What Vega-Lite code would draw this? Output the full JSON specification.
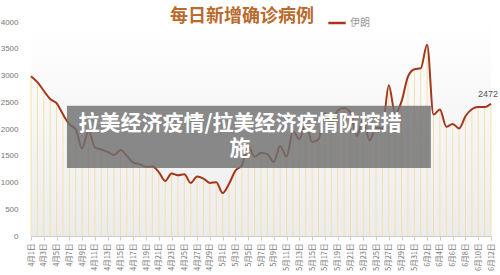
{
  "$schema": "https://vega.github.io/schema/vega-lite/v6.json",
  "width": 460,
  "height": 214,
  "autosize": {"type": "none"},
  "padding": {"left": 31, "top": 22, "right": 9, "bottom": 39},
  "background": "#ffffff",
  "config": {"view": {"stroke": null}},
  "title": {
    "text": "每日新增确诊病例",
    "anchor": "middle",
    "frame": "group",
    "dx": -19,
    "offset": 0,
    "dy": 31,
    "baseline": "bottom",
    "fontSize": 18,
    "font": "Noto Sans CJK SC",
    "fontWeight": "bold",
    "color": "#b96a2c"
  },
  "data": {
    "values": [
      {"date": "2020-04-01", "cases": 2987, "country": "伊朗"},
      {"date": "2020-04-02", "cases": 2875, "country": "伊朗"},
      {"date": "2020-04-03", "cases": 2715, "country": "伊朗"},
      {"date": "2020-04-04", "cases": 2560, "country": "伊朗"},
      {"date": "2020-04-05", "cases": 2483, "country": "伊朗"},
      {"date": "2020-04-06", "cases": 2274, "country": "伊朗"},
      {"date": "2020-04-07", "cases": 2089, "country": "伊朗"},
      {"date": "2020-04-08", "cases": 1997, "country": "伊朗"},
      {"date": "2020-04-09", "cases": 1634, "country": "伊朗"},
      {"date": "2020-04-10", "cases": 1972, "country": "伊朗"},
      {"date": "2020-04-11", "cases": 1657, "country": "伊朗"},
      {"date": "2020-04-12", "cases": 1617, "country": "伊朗"},
      {"date": "2020-04-13", "cases": 1574, "country": "伊朗"},
      {"date": "2020-04-14", "cases": 1512, "country": "伊朗"},
      {"date": "2020-04-15", "cases": 1606, "country": "伊朗"},
      {"date": "2020-04-16", "cases": 1499, "country": "伊朗"},
      {"date": "2020-04-17", "cases": 1374, "country": "伊朗"},
      {"date": "2020-04-18", "cases": 1343, "country": "伊朗"},
      {"date": "2020-04-19", "cases": 1294, "country": "伊朗"},
      {"date": "2020-04-20", "cases": 1297, "country": "伊朗"},
      {"date": "2020-04-21", "cases": 1194, "country": "伊朗"},
      {"date": "2020-04-22", "cases": 1030, "country": "伊朗"},
      {"date": "2020-04-23", "cases": 1168, "country": "伊朗"},
      {"date": "2020-04-24", "cases": 1134, "country": "伊朗"},
      {"date": "2020-04-25", "cases": 1153, "country": "伊朗"},
      {"date": "2020-04-26", "cases": 991, "country": "伊朗"},
      {"date": "2020-04-27", "cases": 1112, "country": "伊朗"},
      {"date": "2020-04-28", "cases": 1073, "country": "伊朗"},
      {"date": "2020-04-29", "cases": 993, "country": "伊朗"},
      {"date": "2020-04-30", "cases": 1006, "country": "伊朗"},
      {"date": "2020-05-01", "cases": 802, "country": "伊朗"},
      {"date": "2020-05-02", "cases": 976, "country": "伊朗"},
      {"date": "2020-05-03", "cases": 1223, "country": "伊朗"},
      {"date": "2020-05-04", "cases": 1323, "country": "伊朗"},
      {"date": "2020-05-05", "cases": 1680, "country": "伊朗"},
      {"date": "2020-05-06", "cases": 1485, "country": "伊朗"},
      {"date": "2020-05-07", "cases": 1556, "country": "伊朗"},
      {"date": "2020-05-08", "cases": 1529, "country": "伊朗"},
      {"date": "2020-05-09", "cases": 1383, "country": "伊朗"},
      {"date": "2020-05-10", "cases": 1683, "country": "伊朗"},
      {"date": "2020-05-11", "cases": 1481, "country": "伊朗"},
      {"date": "2020-05-12", "cases": 1958, "country": "伊朗"},
      {"date": "2020-05-13", "cases": 1808, "country": "伊朗"},
      {"date": "2020-05-14", "cases": 2102, "country": "伊朗"},
      {"date": "2020-05-15", "cases": 1757, "country": "伊朗"},
      {"date": "2020-05-16", "cases": 1806, "country": "伊朗"},
      {"date": "2020-05-17", "cases": 2294, "country": "伊朗"},
      {"date": "2020-05-18", "cases": 2111, "country": "伊朗"},
      {"date": "2020-05-19", "cases": 2346, "country": "伊朗"},
      {"date": "2020-05-20", "cases": 2392, "country": "伊朗"},
      {"date": "2020-05-21", "cases": 2311, "country": "伊朗"},
      {"date": "2020-05-22", "cases": 1869, "country": "伊朗"},
      {"date": "2020-05-23", "cases": 2180, "country": "伊朗"},
      {"date": "2020-05-24", "cases": 1787, "country": "伊朗"},
      {"date": "2020-05-25", "cases": 2023, "country": "伊朗"},
      {"date": "2020-05-26", "cases": 2013, "country": "伊朗"},
      {"date": "2020-05-27", "cases": 2819, "country": "伊朗"},
      {"date": "2020-05-28", "cases": 2282, "country": "伊朗"},
      {"date": "2020-05-29", "cases": 2516, "country": "伊朗"},
      {"date": "2020-05-30", "cases": 2979, "country": "伊朗"},
      {"date": "2020-05-31", "cases": 3117, "country": "伊朗"},
      {"date": "2020-06-01", "cases": 3134, "country": "伊朗"},
      {"date": "2020-06-02", "cases": 3574, "country": "伊朗"},
      {"date": "2020-06-03", "cases": 2269, "country": "伊朗"},
      {"date": "2020-06-04", "cases": 2364, "country": "伊朗"},
      {"date": "2020-06-05", "cases": 2043, "country": "伊朗"},
      {"date": "2020-06-06", "cases": 2095, "country": "伊朗"},
      {"date": "2020-06-07", "cases": 2011, "country": "伊朗"},
      {"date": "2020-06-08", "cases": 2238, "country": "伊朗"},
      {"date": "2020-06-09", "cases": 2369, "country": "伊朗"},
      {"date": "2020-06-10", "cases": 2410, "country": "伊朗"},
      {"date": "2020-06-11", "cases": 2410, "country": "伊朗"},
      {"date": "2020-06-12", "cases": 2472, "country": "伊朗"}
    ]
  },
  "encoding": {
    "x": {
      "field": "date",
      "type": "temporal",
      "scale": {
        "type": "utc",
        "nice": false,
        "domain": [
          {"year": 2020, "month": 4, "date": 1, "utc": true},
          {"year": 2020, "month": 6, "date": 12, "utc": true}
        ]
      },
      "axis": {
        "title": null,
        "grid": false,
        "domainColor": "#cccccc",
        "tickColor": "#cccccc",
        "tickSize": 4,
        "labelAngle": 270,
        "labelPadding": 3,
        "labelFontSize": 7.5,
        "labelFont": "Noto Sans CJK SC",
        "labelColor": "#777777",
        "labelOverlap": false,
        "labelExpr": "utcFormat(datum.value, '%-m月%-d日')",
        "values": [
          {"year": 2020, "month": 4, "date": 1, "utc": true},
          {"year": 2020, "month": 4, "date": 3, "utc": true},
          {"year": 2020, "month": 4, "date": 5, "utc": true},
          {"year": 2020, "month": 4, "date": 7, "utc": true},
          {"year": 2020, "month": 4, "date": 9, "utc": true},
          {"year": 2020, "month": 4, "date": 11, "utc": true},
          {"year": 2020, "month": 4, "date": 13, "utc": true},
          {"year": 2020, "month": 4, "date": 15, "utc": true},
          {"year": 2020, "month": 4, "date": 17, "utc": true},
          {"year": 2020, "month": 4, "date": 19, "utc": true},
          {"year": 2020, "month": 4, "date": 21, "utc": true},
          {"year": 2020, "month": 4, "date": 23, "utc": true},
          {"year": 2020, "month": 4, "date": 25, "utc": true},
          {"year": 2020, "month": 4, "date": 27, "utc": true},
          {"year": 2020, "month": 4, "date": 29, "utc": true},
          {"year": 2020, "month": 5, "date": 1, "utc": true},
          {"year": 2020, "month": 5, "date": 3, "utc": true},
          {"year": 2020, "month": 5, "date": 5, "utc": true},
          {"year": 2020, "month": 5, "date": 7, "utc": true},
          {"year": 2020, "month": 5, "date": 9, "utc": true},
          {"year": 2020, "month": 5, "date": 11, "utc": true},
          {"year": 2020, "month": 5, "date": 13, "utc": true},
          {"year": 2020, "month": 5, "date": 15, "utc": true},
          {"year": 2020, "month": 5, "date": 17, "utc": true},
          {"year": 2020, "month": 5, "date": 19, "utc": true},
          {"year": 2020, "month": 5, "date": 21, "utc": true},
          {"year": 2020, "month": 5, "date": 23, "utc": true},
          {"year": 2020, "month": 5, "date": 25, "utc": true},
          {"year": 2020, "month": 5, "date": 27, "utc": true},
          {"year": 2020, "month": 5, "date": 29, "utc": true},
          {"year": 2020, "month": 5, "date": 31, "utc": true},
          {"year": 2020, "month": 6, "date": 2, "utc": true},
          {"year": 2020, "month": 6, "date": 4, "utc": true},
          {"year": 2020, "month": 6, "date": 6, "utc": true},
          {"year": 2020, "month": 6, "date": 8, "utc": true},
          {"year": 2020, "month": 6, "date": 10, "utc": true},
          {"year": 2020, "month": 6, "date": 12, "utc": true}
        ]
      }
    },
    "y": {
      "field": "cases",
      "type": "quantitative",
      "scale": {"domain": [0, 4000], "nice": false},
      "axis": {
        "title": null,
        "grid": false,
        "domain": false,
        "ticks": false,
        "format": "d",
        "values": [0, 500, 1000, 1500, 2000, 2500, 3000, 3500, 4000],
        "labelPadding": 13,
        "labelFontSize": 8,
        "labelFont": "Liberation Sans",
        "labelColor": "#777777"
      }
    }
  },
  "layer": [
    {
      "data": {"values": [{}]},
      "mark": {
        "type": "rect",
        "fill": {
          "gradient": "linear",
          "x1": 0, "y1": 0, "x2": 0, "y2": 1,
          "stops": [
            {"offset": 0, "color": "#ffffff"},
            {"offset": 1, "color": "#ececec"}
          ]
        }
      },
      "encoding": {"x": null, "y": null}
    },
    {
      "mark": {"type": "rule", "color": "#f6dea8", "strokeWidth": 1},
      "encoding": {"y2": {"datum": 0}}
    },
    {
      "mark": {"type": "line", "interpolate": "monotone", "strokeWidth": 2},
      "encoding": {
        "color": {
          "field": "country",
          "type": "nominal",
          "scale": {"range": ["#a3361b"]},
          "legend": {
            "orient": "none",
            "legendX": 296,
            "legendY": -9,
            "title": null,
            "symbolType": "stroke",
            "symbolSize": 300,
            "symbolStrokeWidth": 2.5,
            "labelFontSize": 10,
            "labelFont": "Noto Sans CJK SC",
            "labelColor": "#999999",
            "labelOffset": 3
          }
        }
      }
    },
    {
      "transform": [{"filter": "time(datum.date) === utc(2020, 5, 12)"}],
      "mark": {"type": "text", "dy": -10, "dx": -3, "fontSize": 9, "font": "Liberation Sans", "color": "#555555"},
      "encoding": {"text": {"field": "cases", "type": "quantitative"}}
    },
    {
      "data": {"values": [{"from": "2020-04-06T15:00:00Z", "to": "2020-06-02T14:00:00Z", "top": 2435, "bottom": 1273}]},
      "mark": {"type": "rect", "color": "#707070", "opacity": 0.82},
      "encoding": {
        "x": {"field": "from", "type": "temporal"},
        "x2": {"field": "to"},
        "y": {"field": "top", "type": "quantitative"},
        "y2": {"field": "bottom"}
      }
    },
    {
      "data": {"values": [{"at": "2020-05-03T17:00:00Z", "level": 2090}]},
      "mark": {
        "type": "text",
        "fontSize": 21,
        "font": "Noto Sans CJK SC",
        "fontWeight": "bold",
        "color": "#ffffff",
        "align": "center",
        "baseline": "middle",
        "lineHeight": 25
      },
      "encoding": {
        "x": {"field": "at", "type": "temporal"},
        "y": {"field": "level", "type": "quantitative"},
        "text": {"value": ["拉美经济疫情/拉美经济疫情防控措", "施"]}
      }
    }
  ]
}
